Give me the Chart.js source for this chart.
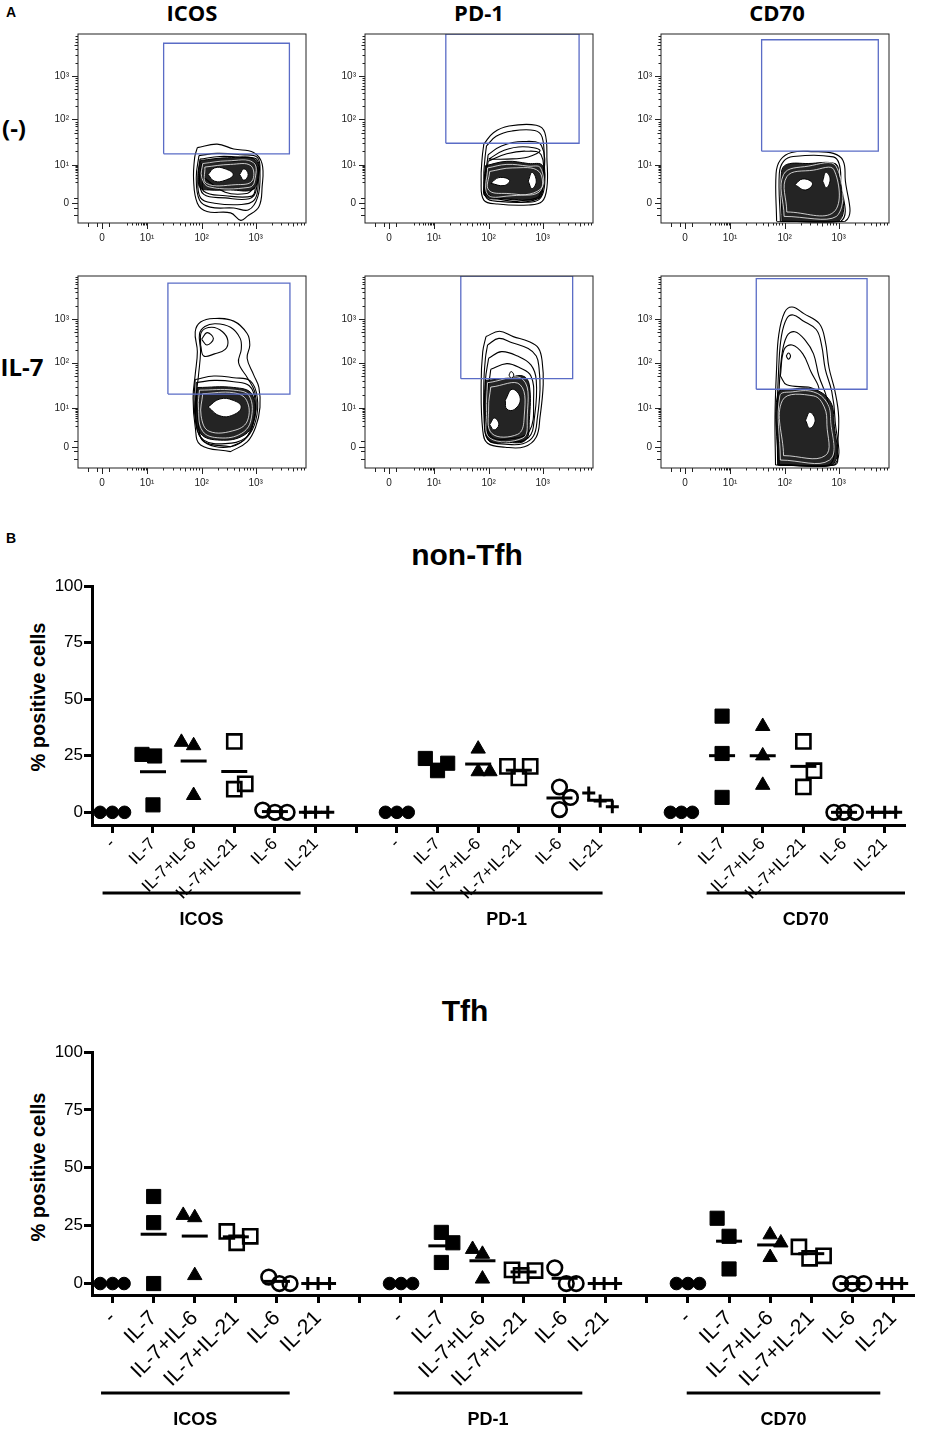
<!DOCTYPE html>
<html>
<head>
<meta charset="utf-8">
<script src="https://cdn.jsdelivr.net/npm/chart.js@4.4.1/dist/chart.umd.min.js"></script>
<style>
  body { margin: 0; width: 930px; height: 1430px; background: #fff; position: relative; overflow: hidden; }
  .txt { position: absolute; transform: translate(-50%, -50%); white-space: nowrap; line-height: 1; color: #000; }
  .arial { font-family: "Liberation Sans", Arial, sans-serif; font-weight: 700; }
  .myriad { font-family: "Open Sans", sans-serif; font-weight: 700; }
  canvas { position: absolute; }
</style>
</head>
<body>

<div class="txt arial" style="left:11px;top:12px;font-size:14px">A</div>
<div class="txt myriad" style="left:192px;top:12px;font-size:22px">ICOS</div>
<div class="txt myriad" style="left:479px;top:12px;font-size:22px">PD-1</div>
<div class="txt myriad" style="left:777px;top:12px;font-size:22px">CD70</div>
<div class="txt myriad" style="left:14px;top:128px;font-size:24px">(-)</div>
<div class="txt myriad" style="left:22px;top:367px;font-size:24px">IL-7</div>

<div class="txt arial" style="left:11px;top:538px;font-size:14px">B</div>
<div class="txt arial" style="left:467px;top:555px;font-size:30px">non-Tfh</div>
<div class="txt arial" style="left:465px;top:1011px;font-size:30px">Tfh</div>
<div class="txt arial" style="left:38px;top:697px;font-size:20px;transform:translate(-50%,-50%) rotate(-90deg)">% positive cells</div>
<div class="txt arial" style="left:38px;top:1167px;font-size:20px;transform:translate(-50%,-50%) rotate(-90deg)">% positive cells</div>

<script>
/* ==========================
   PANEL B DATA
========================== */
const categories = ['-', 'IL-7', 'IL-7+IL-6', 'IL-7+IL-21', 'IL-6', 'IL-21'];
const markerGroups = ['ICOS', 'PD-1', 'CD70'];
const xTickLabels = [...categories, '', ...categories, '', ...categories];
const yTicksPct = [0, 25, 50, 75, 100];

// % positive cells, three donors per condition
const nonTfhIcos = [[0, 0, 0], [25.6, 24.9, 3.3], [31, 29.5, 7.5], [31.3, 10.2, 12.6], [1, 0, 0], [0, 0, 0]];
const nonTfhPd1  = [[0, 0, 0], [23.8, 18.4, 21.7], [28, 18, 18], [20.3, 15.2, 20.3], [11.2, 6.6, 1.2], [8.5, 5, 2.5]];
const nonTfhCd70 = [[0, 0, 0], [42.5, 26, 6.6], [38, 25, 12], [31.3, 18.4, 11.2], [0, 0, 0], [0, 0, 0]];

const tfhIcos = [[0, 0, 0], [37.6, 26.3, 0], [29.5, 28.5, 3.5], [22.5, 17.6, 20.4], [2.8, 0, 0], [0, 0, 0]];
const tfhPd1  = [[0, 0, 0], [22.1, 17.6, 9.1], [14.8, 12.7, 2], [5.9, 3.5, 5.6], [6.8, 0, 0], [0, 0, 0]];
const tfhCd70 = [[0, 0, 0], [28.2, 20.4, 6.3], [21.1, 17.6, 11.3], [15.8, 10.9, 12.0], [0, 0, 0], [0, 0, 0]];

// horizontal scatter of the dots inside a category (category units)
const nonTfhIcosJit = [[-0.3, 0, 0.3], [-0.27, 0.04, 0], [-0.3, 0, 0], [0, 0, 0.27], [-0.3, 0, 0.3], [-0.25, 0, 0.3]];
const nonTfhPd1Jit  = [[-0.28, 0, 0.28], [-0.3, 0, 0.25], [0, 0, 0.29], [-0.28, 0, 0.28], [0, 0.27, 0], [-0.28, 0, 0.3]];
const nonTfhCd70Jit = [[-0.27, 0, 0.27], [0, 0, 0], [0, 0, 0], [0, 0.26, 0], [-0.25, 0, 0.28], [-0.3, 0, 0.27]];
const tfhIcosJit = [[-0.3, 0, 0.28], [0, 0, 0], [-0.28, 0, 0], [-0.22, 0.02, 0.35], [-0.2, 0.06, 0.32], [-0.25, 0, 0.28]];
const tfhPd1Jit  = [[-0.26, 0.02, 0.3], [0, 0.28, 0], [-0.24, 0, 0], [-0.28, -0.06, 0.28], [-0.24, 0.04, 0.28], [-0.28, -0.04, 0.24]];
const tfhCd70Jit = [[-0.28, 0, 0.28], [-0.29, 0, 0], [0, 0.26, 0], [-0.3, -0.04, 0.3], [-0.28, 0, 0.28], [-0.28, -0.04, 0.2]];

/* ==========================
   PANEL A DATA (contours, axis units)
========================== */
const flowTickLabels = ['0', '10\u00B9', '10\u00B2', '10\u00B3'];
const flowXTickPos = [0, 0.84, 1.86, 2.87];
const flowYTickPos = [0, 0.87, 1.9, 2.89];

// gates: [xFrom, xTo, yFrom, yTo]
const gateIcosNeg = [1.15, 3.5, 1.12, 3.63];
const gatePd1Neg  = [1.06, 3.55, 1.36, 3.84];
const gateCd70Neg = [1.43, 3.61, 1.18, 3.71];
const gateIcosIl7 = [1.23, 3.51, 1.19, 3.7];
const gatePd1Il7  = [1.34, 3.43, 1.54, 3.86];
const gateCd70Il7 = [1.33, 3.4, 1.3, 3.8];

const icosNegRings = [
  [[1.78,1.26],[2.15,1.34],[2.46,1.23],[2.83,1.15],[2.99,0.89],[2.99,0.37],[2.93,-0.08],[2.71,-0.30],[2.59,-0.39],[2.40,-0.22],[1.96,-0.19],[1.78,0],[1.71,0.52],[1.73,1.04]],
  [[1.81,1.08],[2.15,1.13],[2.59,1.10],[2.90,1.04],[2.95,0.67],[2.91,0.15],[2.74,-0.15],[2.46,-0.11],[2.02,-0.09],[1.82,0.07],[1.76,0.59]],
  [[1.83,1.0],[2.2,1.06],[2.6,1.04],[2.9,0.98],[2.92,0.5],[2.85,0.08],[2.6,-0.03],[2.1,0.0],[1.84,0.12],[1.79,0.6]],
  [[1.86,0.9],[2.4,0.95],[2.86,0.9],[2.88,0.3],[2.75,0.1],[2.3,0.12],[1.9,0.2],[1.82,0.55]],
  [[1.88,0.6],[2.3,0.25],[2.7,0.22],[2.85,0.35],[2.8,0.16],[2.3,0.17],[1.9,0.27]]
];
const icosNegCore = [[1.84,0.97],[2.34,1.03],[2.87,0.98],[2.9,0.5],[2.8,0.3],[2.4,0.3],[2.0,0.3],[1.83,0.35],[1.8,0.67]];
const icosNegGaps = [
  [[1.88,0.9],[2.34,0.96],[2.83,0.92],[2.85,0.5],[2.75,0.36],[2.0,0.37],[1.86,0.6]],
  [[1.92,0.82],[2.4,0.88],[2.78,0.85],[2.8,0.5],[2.5,0.42],[1.95,0.45]]
];
const icosNegHoles = [
  [[1.98,0.65],[2.1,0.8],[2.3,0.78],[2.45,0.65],[2.3,0.52],[2.1,0.5]],
  [[2.57,0.65],[2.65,0.78],[2.73,0.65],[2.65,0.52]]
];

const pd1NegRings = [
  [[1.77,1.34],[1.95,1.6],[2.24,1.75],[2.75,1.77],[2.91,1.6],[2.95,0.97],[2.95,0.37],[2.86,0.04],[2.61,-0.04],[2.03,-0.02],[1.77,0.07],[1.72,0.52],[1.74,1.04]],
  [[1.82,1.3],[2.0,1.52],[2.3,1.64],[2.72,1.65],[2.86,1.5],[2.9,0.9],[2.9,0.35],[2.8,0.08],[2.55,0.02],[2.05,0.04],[1.82,0.12],[1.77,0.55],[1.79,1.0]],
  [[1.85,1.1],[2.1,1.3],[2.5,1.4],[2.85,1.3],[2.88,0.5],[2.78,0.1],[2.1,0.08],[1.8,0.3]],
  [[1.85,0.95],[2.2,1.12],[2.55,1.18],[2.84,1.1],[2.86,0.45],[2.75,0.12],[2.15,0.1],[1.8,0.25]],
  [[1.86,1.0],[2.15,1.2],[2.5,1.28],[2.82,1.2],[2.6,1.05],[2.2,1.0]]
];
const pd1NegCore = [[1.8,0.85],[2.2,0.95],[2.6,0.9],[2.87,0.85],[2.87,0.3],[2.75,0.1],[2.2,0.1],[1.8,0.15],[1.78,0.5]];
const pd1NegGaps = [
  [[1.84,0.8],[2.2,0.88],[2.6,0.84],[2.83,0.8],[2.83,0.32],[2.2,0.16],[1.84,0.2]],
  [[1.88,0.72],[2.3,0.8],[2.8,0.72],[2.8,0.25],[2.2,0.22],[1.86,0.3]]
];
const pd1NegHoles = [
  [[1.9,0.45],[2.05,0.58],[2.25,0.52],[2.15,0.4]],
  [[2.6,0.5],[2.67,0.7],[2.75,0.5],[2.67,0.33]]
];

const cd70NegRings = [
  [[1.71,-0.41],[1.70,0.67],[1.78,0.98],[1.99,1.15],[2.40,1.17],[2.77,1.13],[2.95,0.97],[2.99,0.59],[2.99,-0.41]],
  [[1.78,-0.41],[1.76,0.67],[1.84,0.95],[2.02,1.06],[2.77,1.05],[2.88,0.89],[2.91,0.52],[2.91,-0.41]]
];
const cd70NegCore = [[1.81,-0.41],[1.80,0.7],[1.9,0.88],[2.3,0.9],[2.8,0.9],[2.87,0.7],[2.87,-0.41]];
const cd70NegGaps = [
  [[1.85,-0.3],[1.84,0.65],[2.3,0.84],[2.82,0.84],[2.83,-0.3]],
  [[1.9,-0.2],[1.9,0.6],[2.4,0.75],[2.78,0.76],[2.78,-0.2]]
];
const cd70NegHoles = [
  [[2.05,0.42],[2.2,0.55],[2.38,0.45],[2.25,0.3]],
  [[2.57,0.5],[2.63,0.7],[2.71,0.55],[2.64,0.35]]
];

const icosIl7Rings = [
  [[2.40,-0.11],[1.84,0.04],[1.74,0.45],[1.70,1.11],[1.74,1.63],[1.78,2.15],[1.74,2.6],[1.84,2.82],[2.09,2.9],[2.46,2.84],[2.71,2.56],[2.76,2.3],[2.71,2.0],[2.83,1.63],[2.93,1.34],[2.95,0.89],[2.87,0.45],[2.71,0.11]],
  [[2.4,0.0],[1.9,0.12],[1.8,0.5],[1.76,1.1],[1.8,1.6],[1.84,2.15],[1.82,2.55],[1.92,2.72],[2.12,2.78],[2.4,2.7],[2.58,2.45],[2.6,2.2],[2.55,1.9],[2.72,1.55],[2.85,1.25],[2.88,0.85],[2.8,0.45],[2.65,0.15]],
  [[1.84,2.3],[1.86,2.6],[2.05,2.7],[2.25,2.6],[2.35,2.4],[2.3,2.2],[2.1,2.1],[1.9,2.05]],
  [[1.86,2.43],[1.96,2.58],[2.08,2.45],[1.96,2.3]],
  [[1.74,1.52],[2.09,1.60],[2.46,1.56],[2.77,1.49],[2.90,1.11],[2.87,0.59],[2.71,0.22],[2.40,0.0],[1.96,0.07],[1.78,0.37],[1.72,1.04]],
  [[1.76,1.45],[2.1,1.5],[2.46,1.47],[2.75,1.38],[2.86,1.05],[2.83,0.55],[2.68,0.2],[2.3,0.07],[1.9,0.15],[1.76,0.5]]
];
const icosIl7Core = [[1.78,1.34],[2.46,1.34],[2.80,1.19],[2.83,0.59],[2.65,0.26],[2.21,0.15],[1.84,0.30],[1.74,0.89]];
const icosIl7Gaps = [
  [[1.82,1.28],[2.46,1.28],[2.75,1.15],[2.78,0.6],[2.6,0.3],[2.2,0.2],[1.88,0.35],[1.8,0.9]],
  [[1.88,1.2],[2.46,1.22],[2.7,1.05],[2.72,0.6],[2.5,0.38],[2.0,0.35],[1.85,0.7]]
];
const icosIl7Holes = [
  [[1.98,0.9],[2.2,1.08],[2.45,1.05],[2.6,0.9],[2.45,0.72],[2.2,0.7]]
];

const pd1Il7Rings = [
  [[1.81,2.49],[2.06,2.61],[2.32,2.49],[2.61,2.38],[2.79,2.23],[2.86,1.93],[2.88,1.41],[2.82,0.67],[2.75,0.22],[2.53,0.0],[2.17,-0.01],[1.84,0.08],[1.75,0.37],[1.72,1.41],[1.75,2.15]],
  [[1.84,2.3],[2.05,2.45],[2.3,2.35],[2.6,2.22],[2.75,2.05],[2.8,1.8],[2.82,1.3],[2.77,0.65],[2.7,0.25],[2.5,0.07],[2.17,0.06],[1.88,0.13],[1.79,0.4],[1.77,1.4],[1.8,2.0]],
  [[1.86,2.0],[2.1,2.15],[2.4,2.05],[2.65,1.85],[2.75,1.5],[2.72,0.7],[2.6,0.2],[2.2,0.12],[1.9,0.2],[1.8,0.6],[1.8,1.5]],
  [[1.9,1.75],[2.2,1.88],[2.45,1.78],[2.65,1.6],[2.7,1.1],[2.62,0.35],[2.25,0.18],[1.9,0.25],[1.82,0.9]]
];
const pd1Il7Core = [[1.8,1.5],[2.2,1.55],[2.5,1.6],[2.62,1.4],[2.62,0.6],[2.55,0.15],[2.2,0.1],[1.85,0.15],[1.78,0.8]];
const pd1Il7Gaps = [
  [[1.84,1.45],[2.5,1.52],[2.58,0.6],[2.5,0.2],[1.88,0.2],[1.82,0.8]],
  [[1.9,1.35],[2.45,1.4],[2.52,0.6],[2.4,0.28],[1.92,0.3],[1.86,0.9]]
];
const pd1Il7Holes = [
  [[2.17,1.05],[2.3,1.3],[2.45,1.1],[2.35,0.85],[2.2,0.85]],
  [[1.88,0.5],[1.97,0.65],[2.05,0.5],[1.96,0.38]],
  [[2.24,1.62],[2.28,1.7],[2.33,1.62],[2.28,1.55]]
];

const cd70Il7Rings = [
  [[1.69,-0.41],[1.68,0.67],[1.71,1.78],[1.75,2.53],[1.86,3.04],[2.0,3.16],[2.22,3.01],[2.51,2.78],[2.62,2.38],[2.69,1.78],[2.80,1.26],[2.87,0.67],[2.84,-0.07],[2.80,-0.41]],
  [[1.73,-0.41],[1.72,0.7],[1.75,1.8],[1.8,2.5],[1.9,2.9],[2.02,2.98],[2.2,2.85],[2.45,2.65],[2.55,2.3],[2.62,1.75],[2.74,1.25],[2.8,0.65],[2.78,-0.41]],
  [[1.76,-0.41],[1.75,1.0],[1.8,2.0],[1.9,2.5],[2.05,2.6],[2.25,2.4],[2.4,2.1],[2.5,1.6],[2.65,1.1],[2.72,0.6],[2.7,-0.41]],
  [[1.78,1.6],[1.85,2.2],[2.0,2.3],[2.2,2.1],[2.35,1.7],[2.5,1.3],[2.3,1.35],[1.9,1.4]],
  [[1.89,2.05],[1.93,2.12],[1.97,2.05],[1.93,1.98]]
];
const cd70Il7Core = [[1.74,-0.41],[1.73,1.2],[2.0,1.3],[2.4,1.3],[2.7,1.05],[2.78,0.6],[2.75,-0.41]];
const cd70Il7Gaps = [
  [[1.78,-0.3],[1.77,1.15],[2.0,1.24],[2.4,1.24],[2.65,1.0],[2.72,0.6],[2.7,-0.3]],
  [[1.84,-0.2],[1.82,1.05],[2.4,1.15],[2.6,0.9],[2.65,0.5],[2.62,-0.2]]
];
const cd70Il7Holes = [
  [[2.25,0.6],[2.33,0.78],[2.43,0.6],[2.33,0.42]]
];

/* ==========================
   LAYOUT
========================== */
const FONT = "'Liberation Sans', Arial, sans-serif";
const FLOW_W = 228;
const flowColLeft = [78, 365, 661];
const flowRowTop = [31, 273];
const flowRowH = [192, 195];
const flowXRange = [-0.45, 3.81];
const flowYRange = [[-0.45, 3.84], [-0.48, 3.86]];

const flowPlots = [
  { col: 0, row: 0, gate: gateIcosNeg, rings: icosNegRings, core: icosNegCore, gaps: icosNegGaps, holes: icosNegHoles },
  { col: 1, row: 0, gate: gatePd1Neg,  rings: pd1NegRings,  core: pd1NegCore,  gaps: pd1NegGaps,  holes: pd1NegHoles },
  { col: 2, row: 0, gate: gateCd70Neg, rings: cd70NegRings, core: cd70NegCore, gaps: cd70NegGaps, holes: cd70NegHoles },
  { col: 0, row: 1, gate: gateIcosIl7, rings: icosIl7Rings, core: icosIl7Core, gaps: icosIl7Gaps, holes: icosIl7Holes },
  { col: 1, row: 1, gate: gatePd1Il7,  rings: pd1Il7Rings,  core: pd1Il7Core,  gaps: pd1Il7Gaps,  holes: pd1Il7Holes },
  { col: 2, row: 1, gate: gateCd70Il7, rings: cd70Il7Rings, core: cd70Il7Core, gaps: cd70Il7Gaps, holes: cd70Il7Holes }
];

function makeCanvas(left, top, w, h) {
  const c = document.createElement('canvas');
  c.width = w; c.height = h;
  c.style.left = left + 'px'; c.style.top = top + 'px';
  c.style.width = w + 'px'; c.style.height = h + 'px';
  document.body.appendChild(c);
  return c;
}

function closed(ring) {
  return ring.concat([ring[0]]).map(p => ({ x: p[0], y: p[1] }));
}

// tick marks of a biexponential axis: [value, length]
function flowTickMarks(major, max) {
  const out = [];
  [-0.27, -0.1, 0.12].forEach(v => out.push([v, 4]));
  major.forEach(v => out.push([v, 6]));
  for (let m = 2; m <= 9; m++) out.push([major[1] - (1 - Math.log10(m)) * (major[1] - 0.3), 2.5]);
  for (let k = 1; k < 4; k++) {
    const w = k < 3 ? major[k + 1] - major[k] : 1;
    for (let m = 2; m <= 9; m++) {
      const v = major[k] + Math.log10(m) * w;
      if (v < max) out.push([v, m === 5 ? 3.5 : 2.5]);
    }
  }
  return out;
}

const flowFrame = {
  id: 'flowFrame',
  afterDraw(chart) {
    const { ctx, chartArea: a, scales: { x, y } } = chart;
    ctx.save();
    ctx.strokeStyle = '#222';
    ctx.lineWidth = 1;
    ctx.strokeRect(a.left, a.top, a.right - a.left, a.bottom - a.top);
    flowTickMarks(flowXTickPos, x.max).forEach(([v, len]) => {
      const px = Math.round(x.getPixelForValue(v)) + 0.5;
      ctx.beginPath(); ctx.moveTo(px, a.bottom); ctx.lineTo(px, a.bottom + len); ctx.stroke();
    });
    flowTickMarks(flowYTickPos, y.max).forEach(([v, len]) => {
      const py = Math.round(y.getPixelForValue(v)) + 0.5;
      ctx.beginPath(); ctx.moveTo(a.left, py); ctx.lineTo(a.left - len, py); ctx.stroke();
    });
    ctx.restore();
  }
};

function flowChart(p) {
  const padTop = 6, yW = 55, xH = 24, padRight = 8;
  const h = flowRowH[p.row];
  const cv = makeCanvas(flowColLeft[p.col] - yW, flowRowTop[p.row] - padTop, yW + FLOW_W + padRight, padTop + h + xH);
  const g = p.gate;
  const datasets = [];
  datasets.push({
    data: closed([[g[0], g[2]], [g[1], g[2]], [g[1], g[3]], [g[0], g[3]]]),
    showLine: true, tension: 0, borderColor: '#5a6cc6', borderWidth: 1.3, pointRadius: 0, fill: false, order: 0
  });
  p.holes.forEach(r => datasets.push({
    data: closed(r), showLine: true, tension: 0.45, borderColor: '#000', borderWidth: 1,
    backgroundColor: '#fff', fill: 'shape', pointRadius: 0, order: 1
  }));
  p.gaps.forEach(r => datasets.push({
    data: closed(r), showLine: true, tension: 0.4, borderColor: 'rgba(255,255,255,0.85)', borderWidth: 0.9,
    fill: false, pointRadius: 0, order: 2
  }));
  datasets.push({
    data: closed(p.core), showLine: true, tension: 0.4, borderColor: '#000', borderWidth: 1,
    backgroundColor: 'rgba(0,0,0,0.86)', fill: 'shape', pointRadius: 0, order: 3
  });
  p.rings.forEach(r => datasets.push({
    data: closed(r), showLine: true, tension: 0.4, borderColor: '#000', borderWidth: 1.1,
    fill: false, pointRadius: 0, order: 4
  }));

  const tickFont = { family: FONT, size: 10 };
  new Chart(cv, {
    type: 'scatter',
    data: { datasets },
    options: {
      responsive: false,
      animation: false,
      events: [],
      layout: { padding: { top: padTop, right: padRight, left: 0, bottom: 0 } },
      plugins: { legend: { display: false }, tooltip: { enabled: false } },
      scales: {
        x: {
          type: 'linear', min: flowXRange[0], max: flowXRange[1],
          afterBuildTicks: s => { s.ticks = flowXTickPos.map(v => ({ value: v })); },
          afterFit: s => { s.height = xH; },
          ticks: { color: '#222', font: tickFont, padding: 3, maxRotation: 0, autoSkip: false,
                   callback: (v, i) => flowTickLabels[i] },
          grid: { display: false, drawTicks: true, tickLength: 6 },
          border: { display: false }
        },
        y: {
          type: 'linear', min: flowYRange[p.row][0], max: flowYRange[p.row][1],
          afterBuildTicks: s => { s.ticks = flowYTickPos.map(v => ({ value: v })); },
          afterFit: s => { s.width = yW; },
          ticks: { color: '#222', font: tickFont, padding: 3, autoSkip: false,
                   callback: (v, i) => flowTickLabels[i] },
          grid: { display: false, drawTicks: true, tickLength: 6 },
          border: { display: false }
        }
      }
    },
    plugins: [flowFrame]
  });
}

flowPlots.forEach(flowChart);

/* ==========================
   PANEL B CHARTS
========================== */
const groupStart = [0, 7, 14];
const markerStyles = [
  { style: 'circle',   r: 6.3, fill: '#000', bw: 1 },
  { style: 'rect',     r: 10,  fill: '#000', bw: 1 },
  { style: 'triangle', r: 8.3, fill: '#000', bw: 1 },
  { style: 'rect',     r: 10,  fill: 'rgba(0,0,0,0)', bw: 2.6 },
  { style: 'circle',   r: 7.3, fill: 'rgba(0,0,0,0)', bw: 2.6 },
  { style: 'cross',    r: 6.5, fill: '#000', bw: 3 }
];

const groupLabels = {
  id: 'groupLabels',
  afterDraw(chart, args, opts) {
    const { ctx, chartArea: a, scales: { x } } = chart;
    ctx.save();
    ctx.strokeStyle = '#000';
    ctx.fillStyle = '#000';
    ctx.lineWidth = 3;
    ctx.font = 'bold 18px ' + FONT;
    ctx.textAlign = 'center';
    ctx.textBaseline = 'middle';
    markerGroups.forEach((name, i) => {
      const [s, e] = opts.spans[i];
      const x0 = x.getPixelForValue(s), x1 = x.getPixelForValue(e);
      ctx.beginPath();
      ctx.moveTo(x0, a.bottom + opts.lineOffset);
      ctx.lineTo(x1, a.bottom + opts.lineOffset);
      ctx.stroke();
      ctx.fillText(name, (x0 + x1) / 2, a.bottom + opts.labelOffset);
    });
    ctx.restore();
  }
};

function dotDatasets(groups, jitters) {
  const means = [];
  groups.forEach((g, gi) => g.forEach((vals, ci) => {
    means.push({ x: groupStart[gi] + ci, y: vals.reduce((a, b) => a + b, 0) / vals.length });
  }));
  const sets = [{
    data: means, pointStyle: 'line', pointRadius: 13, pointBorderColor: '#000',
    pointBorderWidth: 3, pointBackgroundColor: '#000', clip: false
  }];
  categories.forEach((c, ci) => {
    const st = markerStyles[ci];
    const pts = [];
    groups.forEach((g, gi) => g[ci].forEach((v, k) => {
      pts.push({ x: groupStart[gi] + ci + jitters[gi][ci][k], y: v });
    }));
    sets.push({
      label: c, data: pts, pointStyle: st.style, pointRadius: st.r,
      pointBackgroundColor: st.fill, pointBorderColor: '#000', pointBorderWidth: st.bw, clip: false
    });
  });
  return sets;
}

function dotChart(cfg) {
  const cv = makeCanvas(0, cfg.top, 930, cfg.height);
  const plotH = cfg.bottom - cfg.areaTop;
  const padTop = cfg.areaTop - cfg.top;
  new Chart(cv, {
    type: 'scatter',
    data: { datasets: dotDatasets(cfg.groups, cfg.jitters) },
    options: {
      responsive: false,
      animation: false,
      events: [],
      layout: { padding: { top: padTop, right: 930 - cfg.right, left: 0, bottom: 0 } },
      plugins: {
        legend: { display: false }, tooltip: { enabled: false },
        groupLabels: { spans: cfg.spans, lineOffset: cfg.lineOffset, labelOffset: cfg.labelOffset }
      },
      scales: {
        x: {
          type: 'linear', min: -0.5, max: 19.5,
          afterBuildTicks: s => { s.ticks = xTickLabels.map((_, i) => ({ value: i })); },
          afterFit: s => { s.height = cfg.height - padTop - plotH; },
          ticks: { autoSkip: false, minRotation: 45, maxRotation: 45, padding: cfg.labelPad, color: '#000',
                   font: { family: FONT, size: cfg.labelSize }, callback: (v, i) => xTickLabels[i] },
          grid: { drawOnChartArea: false, drawTicks: true, tickLength: 8, tickWidth: 3, tickColor: '#000' },
          border: { display: true, width: 3, color: '#000' }
        },
        y: {
          type: 'linear', min: cfg.yMin, max: 100,
          afterBuildTicks: s => { s.ticks = yTicksPct.map(v => ({ value: v })); },
          afterFit: s => { s.width = 92; },
          ticks: { padding: 1, color: '#000', font: { family: FONT, size: 17 } },
          grid: { drawOnChartArea: false, drawTicks: true, tickLength: 8, tickWidth: 3, tickColor: '#000' },
          border: { display: true, width: 3, color: '#000' }
        }
      }
    },
    plugins: [groupLabels]
  });
}

dotChart({
  top: 570, height: 370, areaTop: 580, bottom: 825, right: 905, yMin: -5.6,
  labelSize: 17, labelPad: 1,
  groups: [nonTfhIcos, nonTfhPd1, nonTfhCd70],
  jitters: [nonTfhIcosJit, nonTfhPd1Jit, nonTfhCd70Jit],
  spans: [[-0.24, 4.63], [7.34, 12.06], [14.62, 19.5]],
  lineOffset: 68, labelOffset: 95
});

dotChart({
  top: 1036, height: 394, areaTop: 1046.7, bottom: 1295, right: 919, yMin: -4.95,
  labelSize: 21, labelPad: 3,
  groups: [tfhIcos, tfhPd1, tfhCd70],
  jitters: [tfhIcosJit, tfhPd1Jit, tfhCd70Jit],
  spans: [[-0.28, 4.31], [6.84, 11.43], [13.97, 18.68]],
  lineOffset: 98, labelOffset: 125
});
</script>
</body>
</html>
